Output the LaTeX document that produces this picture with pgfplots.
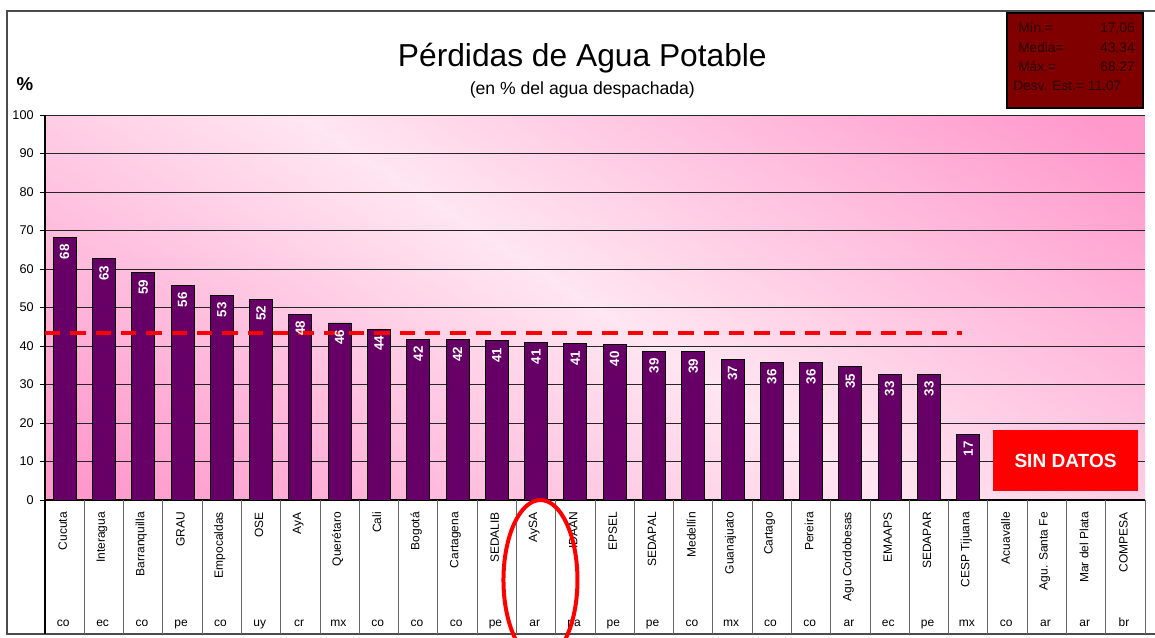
\documentclass[border=0pt]{standalone}
\usepackage{fontspec}
\setmainfont{Liberation Sans}
\usepackage{pgfplots}
\usepackage{pgfplotstable}
\pgfplotsset{compat=1.18}
\definecolor{barpurple}{HTML}{660066}
\definecolor{pinkdeep}{HTML}{FF99CC}
\definecolor{pinklight}{HTML}{FFE6F1}
\definecolor{statsred}{HTML}{800000}
\definecolor{statstext}{HTML}{2A0000}
\pgfplotstableread{
x y
0 68.27
1 62.7
2 59.0
3 55.8
4 53.2
5 52.2
6 48.3
7 46.0
8 44.4
9 41.7
10 41.6
11 41.4
12 41.0
13 40.6
14 40.4
15 38.6
16 38.5
17 36.6
18 35.8
19 35.8
20 34.6
21 32.7
22 32.7
23 17.06
}\datatable
\begin{document}
\begin{tikzpicture}
\useasboundingbox (-33.75pt,-102.75pt) rectangle (832.5pt,375pt);
% background shading
\begin{scope}
\clip (0pt,0pt) rectangle (825pt,288.75pt);
\fill[pinkdeep] (0pt,0pt) rectangle (825pt,288.75pt);
\begin{scope}[transform canvas={rotate around={-33:(412.5pt,144.4pt)}}]
\shade[top color=pinkdeep, bottom color=pinkdeep, middle color=pinklight]
  (-300pt,-175.6pt) rectangle (1125pt,464.4pt);
\end{scope}
\end{scope}
\begin{axis}[
  at={(0pt,0pt)}, anchor=south west,
  scale only axis, width=825pt, height=288.75pt,
  xmin=-0.5, xmax=27.5, ymin=0, ymax=100,
  xtick=\empty,
  ytick={0,10,...,100},
  axis x line*=bottom, axis y line*=left,
  axis line style={-, black, line width=0.8pt},
  tick align=outside, major tick length=4pt,
  ytick style={black, line width=0.6pt},
  ymajorgrids, major grid style={black!85, line width=0.5pt},
  yticklabel style={font=\fontsize{9.5}{10}\selectfont, xshift=-1pt},
  /pgf/number format/assume math mode=true,
  clip=false,
]
\addplot[ybar, bar width=0.585, fill=barpurple, draw=black, line width=0.6pt,
  nodes near coords={\pgfmathprintnumber[fixed,precision=0]{\pgfplotspointmeta}},
  every node near coord/.append style={rotate=90, anchor=east, inner xsep=5pt, inner ysep=0pt,
    text=white, font=\fontsize{10}{10}\selectfont\bfseries}]
  table[x=x, y=y] {\datatable};
\addplot[red, line width=3.4pt, dash pattern=on 11.5pt off 7.5pt] coordinates {(-0.5,43.34) (22.85,43.34)};
\end{axis}
% frame
\draw[black!70, line width=1.4pt] (833pt,366.75pt) -- (-28.5pt,366.75pt) -- (-28.5pt,-100.5pt) -- (833pt,-100.5pt);
% table lines
\foreach \k in {1,...,28} {
  \draw[black!60, line width=0.6pt] ({\k*29.4643pt},0pt) -- ({\k*29.4643pt},-100.5pt);
}
\draw[black, line width=0.8pt] (0pt,0pt) -- (0pt,-100.5pt);
% category names
\foreach \n [count=\i from 0] in {Cucuta,Interagua,Barranquilla,GRAU,Empocaldas,OSE,AyA,Querétaro,Cali,Bogotá,Cartagena,SEDALIB,AySA,IDAAN,EPSEL,SEDAPAL,Medellín,Guanajuato,Cartago,Pereira,Agu Cordobesas,EMAAPS,SEDAPAR,CESP Tijuana,Acuavalle,Agu. Santa Fe,Mar del Plata,COMPESA} {
  \node[rotate=90, anchor=east, inner sep=0pt, font=\fontsize{9}{10}\selectfont]
    at ({(\i+0.5)*29.4643pt-1.5pt},-9pt) {\n};
}
\foreach \c [count=\i from 0] in {co,ec,co,pe,co,uy,cr,mx,co,co,co,pe,ar,pa,pe,pe,co,mx,co,co,ar,ec,pe,mx,co,ar,ar,br} {
  \node[anchor=base, inner sep=0pt, font=\fontsize{9}{10}\selectfont]
    at ({(\i+0.5)*29.4643pt-1pt},-94.5pt) {\c};
}
% titles
\node[anchor=base, inner sep=0pt, font=\fontsize{23.8}{26}\selectfont] at (403pt,325.5pt) {Pérdidas de Agua Potable};
\node[anchor=base, inner sep=0pt, font=\fontsize{13.2}{15}\selectfont] at (403pt,304.5pt) {(en \% del agua despachada)};
\node[inner sep=0pt, font=\fontsize{14}{15}\selectfont\bfseries] at (-15pt,312pt) {\%};
% stats box
\draw[fill=statsred, draw=black, line width=0.8pt] (721.5pt,365.25pt) rectangle (823.5pt,294pt);
\begin{scope}[every node/.style={inner sep=0pt, font=\fontsize{10.3}{11}\selectfont, text=statstext}]
\node[anchor=base west] at (729.75pt,351pt) {Mín.=};
\node[anchor=base east] at (817.5pt,351pt) {17,06};
\node[anchor=base west] at (729.75pt,336pt) {Media=};
\node[anchor=base east] at (817.5pt,336pt) {43,34};
\node[anchor=base west] at (729.75pt,321.75pt) {Máx.=};
\node[anchor=base east] at (817.5pt,321.75pt) {68,27};
\node[anchor=base west] at (726pt,307.5pt) {Desv. Est.= 11,07};
\end{scope}
% sin datos
\fill[red] (711pt,52.5pt) rectangle (819.75pt,6.75pt);
\node[text=white, font=\fontsize{14.3}{15}\selectfont\bfseries] at (765.4pt,29.6pt) {SIN DATOS};
% ellipse
\draw[red, line width=3pt] (371.6pt,-60pt) ellipse [x radius=27.75pt, y radius=60pt];
\end{tikzpicture}
\end{document}
